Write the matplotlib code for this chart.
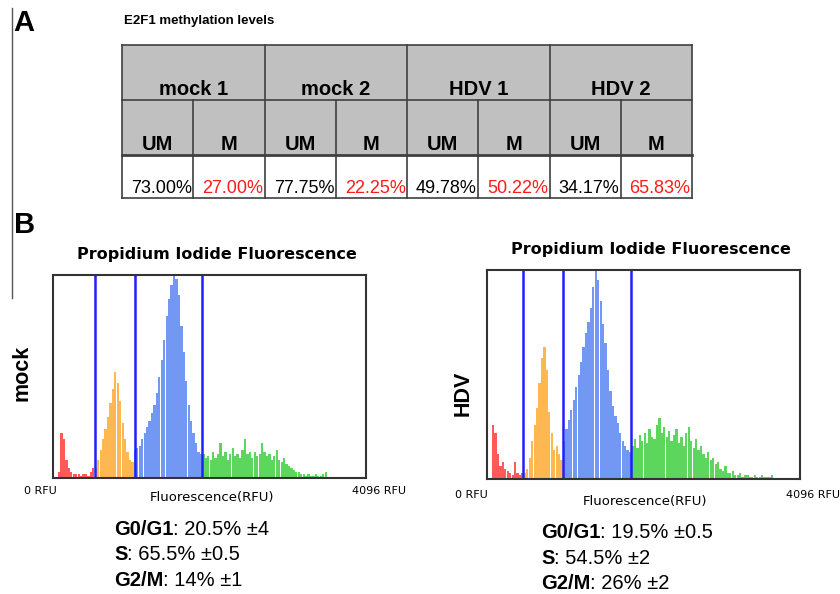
import numpy as np
import matplotlib
matplotlib.use('Agg')
import matplotlib.pyplot as plt
from matplotlib.patches import Rectangle

plt.rcParams['font.family'] = ['Liberation Sans', 'DejaVu Sans']

# Panel A: E2F1 methylation table
groups = ['mock 1', 'mock 2', 'HDV 1', 'HDV 2']
sub_labels = ['UM', 'M']
um_values = ['73.00%', '77.75%', '49.78%', '34.17%']
m_values = ['27.00%', '22.25%', '50.22%', '65.83%']

# Panel B: PI histograms (bins of 32 RFU, % of frame height)
bin_width = 32
mock_start = 64
mock_red = [3, 22, 19, 9, 5, 3, 2, 2, 2, 1, 2, 2, 1, 3, 5]
mock_orange = [5, 9, 14, 19, 24, 30, 37, 44, 52, 47, 38, 27, 19, 13, 9, 8]
mock_blue = [14, 15, 16, 19, 22, 25, 28, 32, 36, 42, 50, 58, 68, 80, 88, 95,
             100, 98, 90, 75, 62, 48, 36, 28, 22, 17, 13, 12]
mock_green = [12, 10, 11, 9, 13, 10, 12, 17, 11, 13, 9, 12, 15, 11, 12, 10, 14,
              19, 12, 13, 10, 13, 11, 12, 17, 13, 11, 12, 9, 11, 14, 9, 8, 10,
              7, 6, 5, 4, 3, 3, 2, 2, 1, 2, 1, 1, 2, 1, 1, 2, 3]
mock_gates = [550, 1073, 1950]

hdv_start = 64
hdv_red = [26, 22, 12, 6, 8, 5, 4, 3, 2, 8, 3, 2, 3]
hdv_orange = [3, 5, 10, 18, 26, 34, 46, 58, 63, 52, 32, 22, 14, 16, 12, 9]
hdv_blue = [18, 24, 28, 33, 38, 44, 50, 56, 63, 70, 75, 82, 92, 100, 95, 85,
            74, 65, 52, 42, 35, 30, 27, 22, 18, 16, 14, 13]
hdv_green = [16, 19, 15, 21, 18, 22, 17, 24, 20, 19, 26, 29, 22, 25, 20, 23, 18,
             21, 24, 17, 20, 16, 22, 25, 18, 15, 19, 14, 16, 12, 10, 13, 9, 10,
             7, 8, 5, 4, 6, 3, 3, 4, 2, 2, 3, 1, 2, 2, 1, 1, 2, 1, 1, 2, 1, 1, 1, 2]
hdv_gates = [471, 994, 1884]

mock_stats = [('G0/G1', ': 20.5% \u00b14'), ('S', ': 65.5% \u00b10.5'), ('G2/M', ': 14% \u00b11')]
hdv_stats = [('G0/G1', ': 19.5% \u00b10.5'), ('S', ': 54.5% \u00b12'), ('G2/M', ': 26% \u00b12')]

phase_colors = ['#ff3030', '#ffa526', '#4f7ff2', '#35cc35']

fig = plt.figure(figsize=(8.4, 5.94), dpi=100)
bg = fig.add_axes([0, 0, 1, 1])
bg.set_xlim(0, 840)
bg.set_ylim(594, 0)
bg.axis('off')

# divider line and panel letters
bg.plot([12, 12], [8, 298], color='#555555', lw=1)
bg.text(13, 31, 'A', fontsize=21, fontweight='bold', va='baseline')
bg.text(14, 233, 'B', fontsize=21, fontweight='bold', va='baseline')
bg.text(124, 24, 'E2F1 methylation levels', fontsize=9.5, fontweight='bold', va='baseline')

# table
t_left, t_right = 122, 692
rows = [45, 100, 155, 198]
grp_w = (t_right - t_left) / len(groups)
sub_w = grp_w / 2
line_c = '#404040'
bg.add_patch(Rectangle((t_left, rows[0]), t_right - t_left, rows[2] - rows[0],
                       fc='#c0c0c0', ec='none'))
for y in rows:
    bg.plot([t_left, t_right], [y, y], color=line_c, lw=2 if y == rows[2] else 1.2)
for i in range(len(groups) + 1):
    x = t_left + i * grp_w
    bg.plot([x, x], [rows[0], rows[3]], color=line_c, lw=1.2)
for i, g in enumerate(groups):
    gx = t_left + i * grp_w
    bg.plot([gx + sub_w, gx + sub_w], [rows[1], rows[3]], color=line_c, lw=1.2)
    bg.text(gx + grp_w / 2, 95, g, fontsize=14.5, fontweight='bold', ha='center', va='baseline')
    for j, lab in enumerate(sub_labels):
        bg.text(gx + sub_w * (j + 0.5), 150, lab, fontsize=14.5, fontweight='bold',
                ha='center', va='baseline')
    bg.text(gx + sub_w - 1.5, 193, um_values[i], fontsize=13, ha='right', va='baseline')
    bg.text(gx + grp_w - 1.5, 193, m_values[i], fontsize=13, ha='right', va='baseline',
            color='#ff1a1a')


def draw_hist(rect, start, segments, gates):
    ax = fig.add_axes(rect)
    counts = np.concatenate(segments)
    x = start + bin_width * np.arange(len(counts)) + bin_width / 2
    cols = np.repeat(phase_colors, [len(s) for s in segments])
    ax.bar(x, counts, width=bin_width * 0.92, color=cols, alpha=0.8, linewidth=0)
    for g in gates:
        ax.axvline(g, color='#1f1fff', lw=1.8)
    ax.set_xlim(0, 4096)
    ax.set_ylim(0, 100)
    ax.set_xticks([])
    ax.set_yticks([])
    for s in ax.spines.values():
        s.set_color('#333333')
        s.set_linewidth(1.5)
    return ax


draw_hist([53 / 840, 1 - 478 / 594, 313 / 840, 203 / 594], mock_start,
          [mock_red, mock_orange, mock_blue, mock_green], mock_gates)
draw_hist([487 / 840, 1 - 479 / 594, 313 / 840, 209 / 594], hdv_start,
          [hdv_red, hdv_orange, hdv_blue, hdv_green], hdv_gates)

title = 'Propidium Iodide Fluorescence'
bg.text(217, 259, title, fontsize=11.5, fontweight='bold', ha='center', va='baseline',
        family='DejaVu Sans')
bg.text(651, 254, title, fontsize=11.5, fontweight='bold', ha='center', va='baseline',
        family='DejaVu Sans')
bg.text(22, 373, 'mock', fontsize=15.5, fontweight='bold', rotation=90, ha='center', va='center')
bg.text(463, 393, 'HDV', fontsize=15.5, fontweight='bold', rotation=90, ha='center', va='center')

for x0, x1, xc, yb, yf in [(40, 379, 212, 494, 501), (471, 813, 645, 498, 505)]:
    bg.text(x0, yb, '0 RFU', fontsize=8, ha='center', va='baseline', family='DejaVu Sans')
    bg.text(x1, yb, '4096 RFU', fontsize=8, ha='center', va='baseline', family='DejaVu Sans')
    bg.text(xc, yf, 'Fluorescence(RFU)', fontsize=9.5, ha='center', va='baseline',
            family='DejaVu Sans')

renderer = fig.canvas.get_renderer()


def stat_lines(x, baselines, items):
    for (bold, rest), y in zip(items, baselines):
        t = bg.text(x, y, bold, fontsize=14.5, fontweight='bold', va='baseline')
        bb = t.get_window_extent(renderer)
        bg.text(bb.x1, y, rest, fontsize=14.5, va='baseline')


stat_lines(114, [535, 560, 586], mock_stats)
stat_lines(541, [538, 564, 589], hdv_stats)

fig.savefig('out.png', dpi=100)
